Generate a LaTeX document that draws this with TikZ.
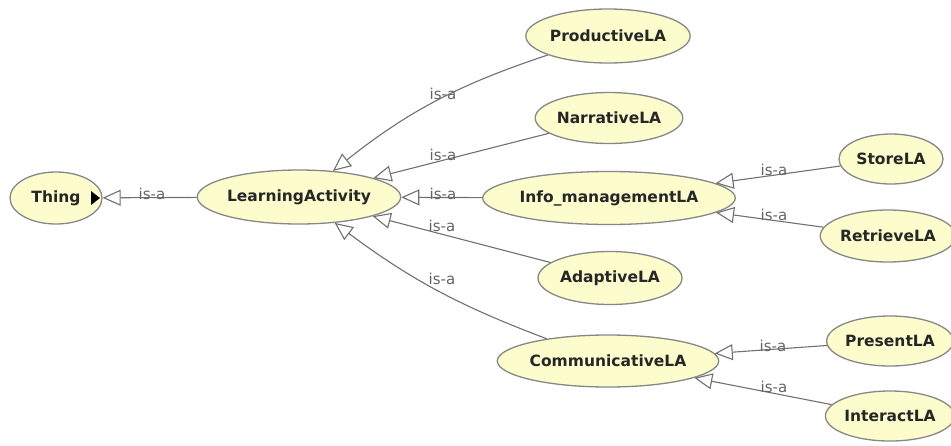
\documentclass[tikz,border=0pt]{standalone}
\usepackage{fontspec}
\setmainfont{DejaVu Sans}
\usetikzlibrary{arrows.meta,shapes.geometric}
\definecolor{nodefill}{RGB}{252,252,204}
\definecolor{nodeline}{RGB}{135,135,135}
\definecolor{edgeline}{RGB}{112,112,112}
\definecolor{lbltext}{RGB}{100,100,100}
\tikzset{
  cls/.style={ellipse, draw=nodeline, line width=1.3pt, fill=nodefill, inner sep=0pt,
    font=\fontsize{15.5}{18}\selectfont\bfseries, text=black!85},
  isa/.style={draw=edgeline, line width=1.1pt,
    -{Triangle[length=18pt, width=16pt, line width=1.1pt, fill=white]}},
  lbl/.style={font=\fontsize{15}{18}\selectfont, text=lbltext, inner sep=0pt},
}
\begin{document}
\begin{tikzpicture}[x=1pt, y=-1pt]
\useasboundingbox (0,0) rectangle (951,445);

% classes
\node[cls, minimum width=92pt,  minimum height=52pt] (Thing)  at (56,198)  {Thing};
\node[cls, minimum width=182pt, minimum height=54pt] (LA)     at (299,197) {LearningActivity};
\node[cls, minimum width=160pt, minimum height=54pt] (Prod)   at (608,36)  {ProductiveLA};
\node[cls, minimum width=142pt, minimum height=51pt] (Narr)   at (609,118) {NarrativeLA};
\node[cls, minimum width=225pt, minimum height=53pt] (Info)   at (609,198) {Info\_managementLA};
\node[cls, minimum width=144pt, minimum height=53pt] (Adapt)  at (610,278) {AdaptiveLA};
\node[cls, minimum width=203pt, minimum height=52pt] (Comm)   at (608,361) {CommunicativeLA};
\node[cls, minimum width=104pt, minimum height=50pt] (Store)  at (891,159) {StoreLA};
\node[cls, minimum width=120pt, minimum height=52pt] (Retr)   at (888,236) {RetrieveLA};
\node[cls, minimum width=120pt, minimum height=50pt] (Pres)   at (890,341) {PresentLA};
\node[cls, minimum width=118pt, minimum height=50pt] (Inter)  at (890,416) {InteractLA};

% expand marker inside Thing
\fill[black] ([shift={(35,-7)}]Thing.center) -- ([shift={(44,0)}]Thing.center)
  -- ([shift={(35,7)}]Thing.center) -- cycle;

% subclass links
\draw[isa] (LA) -- (Thing);
\draw[isa] (Prod) to[bend right=10] (LA);
\draw[isa] (Narr) -- (LA);
\draw[isa] (Info) -- (LA);
\draw[isa] (Adapt) -- (LA);
\draw[isa] (Comm) to[bend left=8] (LA);
\draw[isa] (Store) -- (Info);
\draw[isa] (Retr) -- (Info);
\draw[isa] (Pres) -- (Comm);
\draw[isa] (Inter) -- (Comm);

% link labels
\node[lbl] (l0) at (152,194) {is-a};
\node[lbl] (l1) at (443,94)  {is-a};
\node[lbl] (l2) at (443,155) {is-a};
\node[lbl] (l3) at (443,194) {is-a};
\node[lbl] (l4) at (442,226) {is-a};
\node[lbl] (l5) at (442,279) {is-a};
\node[lbl] (l6) at (774,170) {is-a};
\node[lbl] (l7) at (774,215) {is-a};
\node[lbl] (l8) at (773,346) {is-a};
\node[lbl] (l9) at (774,387) {is-a};
\end{tikzpicture}
\end{document}
